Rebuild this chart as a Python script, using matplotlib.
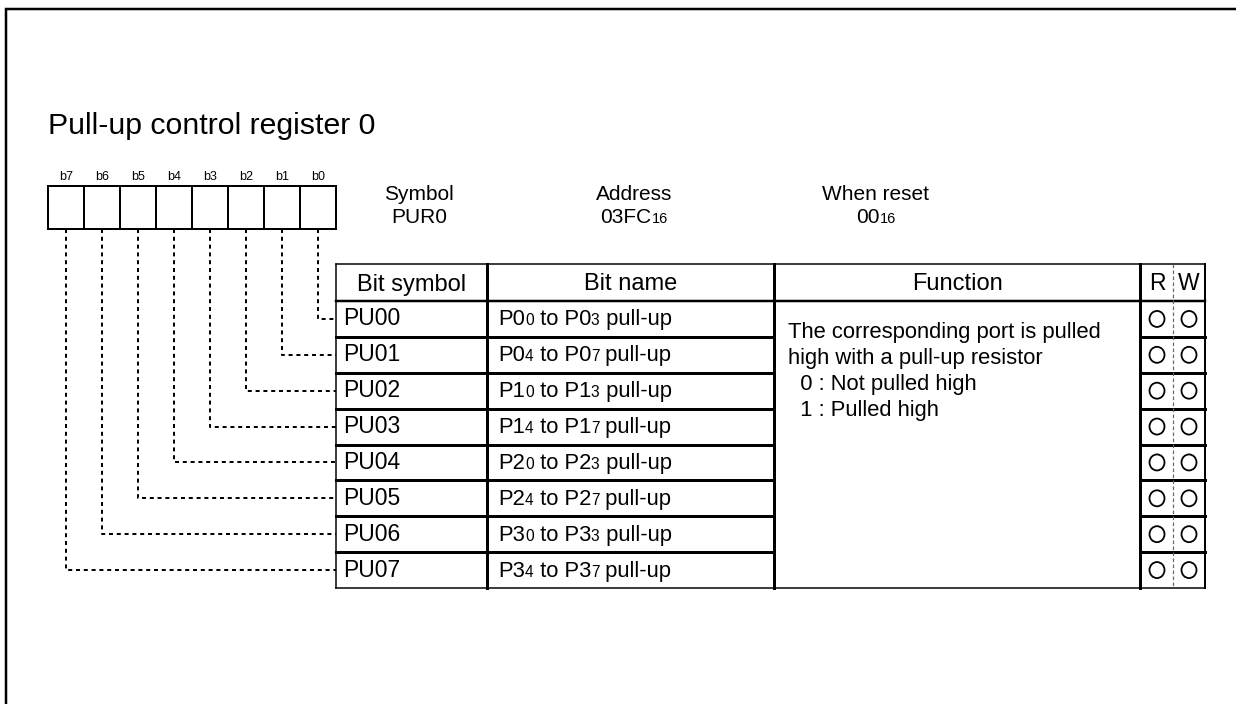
import matplotlib.pyplot as plt
from matplotlib.patches import Rectangle, Ellipse

plt.rcParams['font.family'] = ['Liberation Sans', 'DejaVu Sans']

title = "Pull-up control register 0"
bits = ["b7", "b6", "b5", "b4", "b3", "b2", "b1", "b0"]
bit_symbols = ["PU00", "PU01", "PU02", "PU03", "PU04", "PU05", "PU06", "PU07"]
# (port, first pin, last pin)
bit_ports = [("0", "0", "3"), ("0", "4", "7"), ("1", "0", "3"), ("1", "4", "7"),
             ("2", "0", "3"), ("2", "4", "7"), ("3", "0", "3"), ("3", "4", "7")]
func_lines = ["The corresponding port is pulled", "high with a pull-up resistor",
              "  0 : Not pulled high", "  1 : Pulled high"]
info = [("Symbol", [("PUR0", 15)]),
        ("Address", [("03FC", 15), ("16", 10.5)]),
        ("When reset", [("00", 15), ("16", 10.5)])]
headers = ["Bit symbol", "Bit name", "Function"]

PX = 0.72  # points per pixel at dpi 100

fig = plt.figure(figsize=(12.36, 7.04), dpi=100)
ax = fig.add_axes([0, 0, 1, 1])
ax.set_xlim(0, 1236)
ax.set_ylim(704, 0)
ax.axis('off')
renderer = fig.canvas.get_renderer()


def text_w(s, size):
    # width of s incl. spaces, measured between two bars
    t1 = ax.text(0, 0, "|" + s + "|", fontsize=size)
    t2 = ax.text(0, 0, "||", fontsize=size)
    w = t1.get_window_extent(renderer).width - t2.get_window_extent(renderer).width
    t1.remove()
    t2.remove()
    return w


def rich(x, y, parts, ha='left'):
    total = sum(text_w(s, sz) for s, sz in parts)
    cur = x - total / 2 if ha == 'center' else x
    for s, sz in parts:
        ax.text(cur, y, s, fontsize=sz, va='baseline', ha='left')
        cur += text_w(s, sz)


# outer frame (top and left only)
ax.plot([6, 6, 1236], [704, 9, 9], color='black', lw=2.5 * PX, solid_joinstyle='miter')

# title
ax.text(48, 134, title, fontsize=21.8, va='baseline')

# register box
box_x0, cell_w, box_y0, box_h = 48, 36, 186, 43
ax.add_patch(Rectangle((box_x0, box_y0), cell_w * 8, box_h, fill=False, lw=2 * PX))
for i in range(1, 8):
    ax.plot([box_x0 + i * cell_w] * 2, [box_y0, box_y0 + box_h], color='black', lw=2 * PX)
for i, b in enumerate(bits):
    ax.text(box_x0 + cell_w * (i + 0.5), 180, b, fontsize=9, ha='center', va='baseline')

# symbol / address / reset
for cx, (lab, parts) in zip([419, 634, 876], info):
    ax.text(cx, 200, lab, fontsize=15, ha='center', va='baseline')
    rich(cx, 223, parts, ha='center')

# table geometry
tx = [336, 487, 774, 1140, 1205]
rw_mid = 1173
top, head_b, bot = 264, 301, 588
row_h = (bot - head_b) / 8
rows = [head_b + row_h * i for i in range(9)]

# table lines
ax.plot([tx[0], tx[-1]], [top, top], color='black', lw=1.5 * PX)
ax.plot([tx[0], tx[-1]], [bot, bot], color='black', lw=1.5 * PX)
ax.plot([tx[0], tx[0]], [top, bot], color='black', lw=1.5 * PX)
ax.plot([tx[-1], tx[-1]], [top, bot], color='black', lw=2 * PX)
for x in tx[1:4]:
    ax.plot([x, x], [top, bot], color='black', lw=3 * PX)
ax.plot([tx[0], tx[-1]], [head_b, head_b], color='black', lw=2.5 * PX)
for y in rows[1:8]:
    ax.plot([tx[0], tx[2]], [y, y], color='black', lw=3 * PX)
    ax.plot([tx[3], tx[4]], [y, y], color='black', lw=3 * PX)
ax.plot([rw_mid, rw_mid], [top, bot], color='#666666', lw=1.2 * PX, dashes=(3, 2))

# header texts
for i, h in enumerate(headers):
    ax.text((tx[i] + tx[i + 1]) / 2, 290.5, h, fontsize=17, ha='center', va='baseline')
ax.text(1157, 290.5, "R", fontsize=16.5, ha='center', va='baseline')
ax.text(1189, 290.5, "W", fontsize=16.5, ha='center', va='baseline')

# rows
for i in range(8):
    yc = rows[i] + row_h / 2
    ax.text(343, yc + 6.5, bit_symbols[i], fontsize=16.5, va='baseline')
    p, a, b = bit_ports[i]
    rich(498, yc + 6.5, [("P" + p, 15.8), (a, 11.2), (" to P" + p, 15.8), (b, 11.2), (" pull-up", 15.8)])
    for cx in (1157, 1189):
        ax.add_patch(Ellipse((cx, yc), 15, 16, fill=False, lw=1.8 * PX))
    # dashed connector from bit cell to row
    bx = box_x0 + cell_w * (7 - i + 0.5)
    ax.plot([bx, bx, tx[0]], [box_y0 + box_h, yc, yc], color='black', lw=2 * PX,
            dashes=(2.0, 1.9))

# function description
for k, line in enumerate(func_lines):
    ax.text(788, 338 + 26 * k, line, fontsize=15.8, va='baseline')

fig.savefig('out.png', dpi=100)
